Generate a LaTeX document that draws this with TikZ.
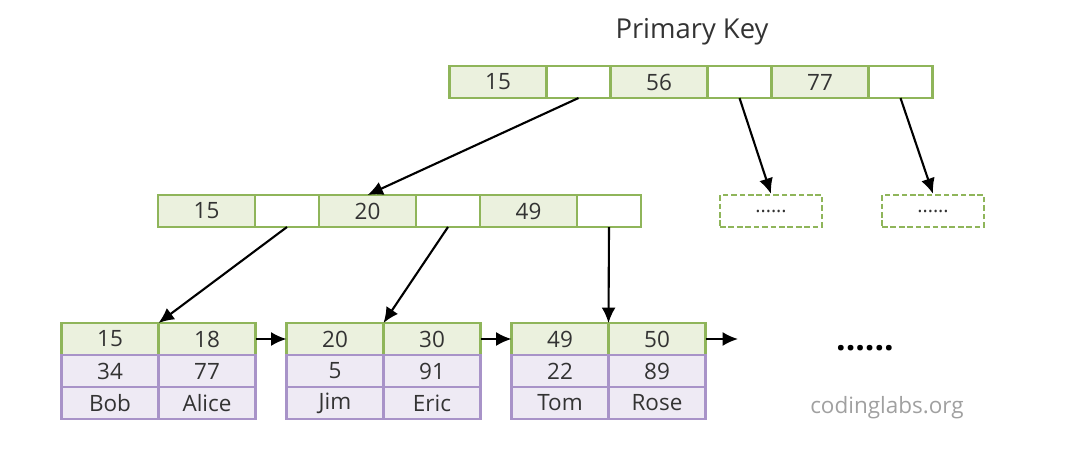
\documentclass[tikz,border=0pt]{standalone}
\usepackage{fontspec}
\setmainfont{Open Sans}
\usepackage{xcolor}
\usetikzlibrary{positioning, arrows.meta}

\definecolor{keygreen}{HTML}{8FB55A}
\definecolor{keyfill}{HTML}{EBF1DE}
\definecolor{rowpurple}{HTML}{A893C8}
\definecolor{rowfill}{HTML}{EEEAF4}
\definecolor{celltext}{HTML}{333333}
\definecolor{marktext}{HTML}{A0A0A0}

\begin{document}
\begin{tikzpicture}[node distance=0pt and 0pt]

			\useasboundingbox (0,0) rectangle (27,-11.25);

			% Define styles
			\tikzset{
				cell/.style={
					rectangle, draw, line width=1.7pt,
					outer sep=0pt, inner sep=0pt, text=celltext,
					minimum height=0.8cm, font=\fontsize{16}{18}\selectfont
				},
				keycell/.style={cell, draw=keygreen, fill=keyfill, minimum width=2.425cm},
				ptrcell/.style={cell, draw=keygreen, fill=white, minimum width=1.6cm},
				datacell/.style={cell, draw=rowpurple, fill=rowfill, minimum width=2.425cm},
				morebox/.style={
					rectangle, draw=keygreen, line width=1.7pt,
					dash pattern=on 4pt off 2pt, text=celltext,
					minimum width=2.55cm, minimum height=0.8cm, font=\fontsize{14}{16}\selectfont
				},
				arrow/.style={line width=1.5pt, -{Latex[length=11pt, width=10pt]}}
			}

			% Title
			\node (title) at (17.3,-0.8) {\color{celltext}\fontsize{19.5}{22}\selectfont Primary Key};

			% Root node
			\node (r15) [keycell] at (12.45,-2.05) {15};
			\node (rp1) [ptrcell, right=of r15] {};
			\node (r56) [keycell, right=of rp1] {56};
			\node (rp2) [ptrcell, right=of r56] {};
			\node (r77) [keycell, right=of rp2] {77};
			\node (rp3) [ptrcell, right=of r77] {};

			% Inner node
			\node (m15) [keycell] at (5.1625,-5.275) {15};
			\node (mp1) [ptrcell, right=of m15] {};
			\node (m20) [keycell, right=of mp1] {20};
			\node (mp2) [ptrcell, right=of m20] {};
			\node (m49) [keycell, right=of mp2] {49};
			\node (mp3) [ptrcell, right=of m49] {};

			% Other inner nodes
			\node (more1) [morebox] at (19.275,-5.275) {......};
			\node (more2) [morebox] at (23.325,-5.275) {......};

			% Leaf 1
			\node (l1a) [keycell] at (2.75,-8.475) {15};
			\node (l1b) [keycell, right=of l1a] {18};
			\node (l1c) [datacell, below=of l1a] {34};
			\node (l1d) [datacell, below=of l1b] {77};
			\node (l1e) [datacell, below=of l1c] {Bob};
			\node (l1f) [datacell, below=of l1d] {Alice};

			% Leaf 2
			\node (l2a) [keycell, right=0.775cm of l1b] {20};
			\node (l2b) [keycell, right=of l2a] {30};
			\node (l2c) [datacell, below=of l2a] {5};
			\node (l2d) [datacell, below=of l2b] {91};
			\node (l2e) [datacell, below=of l2c] {Jim};
			\node (l2f) [datacell, below=of l2d] {Eric};

			% Leaf 3
			\node (l3a) [keycell, right=0.775cm of l2b] {49};
			\node (l3b) [keycell, right=of l3a] {50};
			\node (l3c) [datacell, below=of l3a] {22};
			\node (l3d) [datacell, below=of l3b] {89};
			\node (l3e) [datacell, below=of l3c] {Tom};
			\node (l3f) [datacell, below=of l3d] {Rose};

			\coordinate (next) at (18.45,-8.475);
			\node (dots) at (21.625,-8.7) {\fontsize{24}{26}\selectfont\bfseries ......};
			\node (site) at (22.175,-10.2) {\color{marktext}\fontsize{16}{18}\selectfont codinglabs.org};

			% Arrows (root to inner)
			\draw[arrow] (rp1.south) -- (m20.north);
			\draw[arrow] (rp2.south) -- (more1.north);
			\draw[arrow] (rp3.south) -- (more2.north);

			% Arrows (inner to leaves)
			\draw[arrow] (mp1.south) -- (l1a.north east);
			\draw[arrow] (mp2.south) -- (l2a.north east);
			\draw[arrow] (mp3.south) -- (l3a.north east);

			% Leaf links
			\draw[arrow] (l1b.east) -- (l2a.west);
			\draw[arrow] (l2b.east) -- (l3a.west);
			\draw[arrow] (l3b.east) -- (next);

		\end{tikzpicture}
\end{document}
